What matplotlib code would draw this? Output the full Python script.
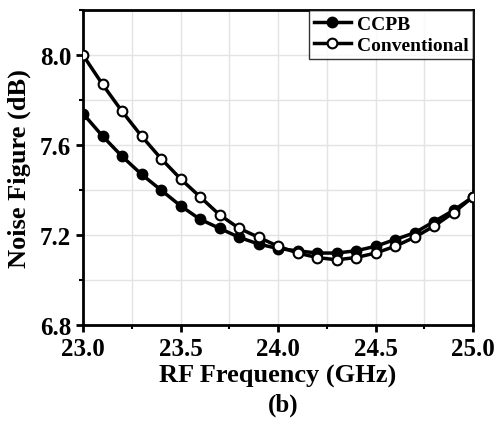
import matplotlib
matplotlib.use("Agg")
import matplotlib.pyplot as plt
from matplotlib.ticker import MultipleLocator

freq = [23.0, 23.1, 23.2, 23.3, 23.4, 23.5, 23.6, 23.7, 23.8, 23.9, 24.0,
        24.1, 24.2, 24.3, 24.4, 24.5, 24.6, 24.7, 24.8, 24.9, 25.0]
ccpb = [7.74, 7.64, 7.55, 7.47, 7.40, 7.33, 7.27, 7.23, 7.19, 7.16, 7.14,
        7.13, 7.12, 7.12, 7.13, 7.15, 7.18, 7.21, 7.26, 7.31, 7.37]
conventional = [8.00, 7.87, 7.75, 7.64, 7.54, 7.45, 7.37, 7.29, 7.23, 7.19, 7.15,
                7.12, 7.10, 7.09, 7.10, 7.12, 7.15, 7.19, 7.24, 7.30, 7.37]

plt.rcParams['font.family'] = ['Liberation Serif', 'DejaVu Serif']
plt.rcParams['font.weight'] = 'bold'

fig = plt.figure(figsize=(4.97, 4.27), dpi=100)
ax = fig.add_axes([0.167, 0.2365, 0.785, 0.7375])

ax.plot(freq, ccpb, '-o', color='black', lw=2.5, ms=7, mfc='black', mec='black',
        mew=1.5, label='CCPB', zorder=3)
ax.plot(freq, conventional, '-o', color='black', lw=2.5, ms=7, mfc='white', mec='black',
        mew=1.5, label='Conventional', zorder=4)

ax.set_xlim(23.0, 25.0)
ax.set_ylim(6.8, 8.2)
ax.xaxis.set_major_locator(MultipleLocator(0.5))
ax.xaxis.set_minor_locator(MultipleLocator(0.25))
ax.yaxis.set_major_locator(MultipleLocator(0.4))
ax.yaxis.set_minor_locator(MultipleLocator(0.2))
ax.grid(True, which='both', color='#e3e3e3', lw=1, zorder=0)
ax.set_axisbelow(True)

for s in ax.spines.values():
    s.set_linewidth(2)
ax.tick_params(which='major', direction='out', length=5, width=2, labelsize=18)
ax.tick_params(which='minor', direction='out', length=3, width=1.5)
ax.xaxis.set_major_formatter(matplotlib.ticker.FormatStrFormatter('%.1f'))
ax.yaxis.set_major_formatter(matplotlib.ticker.FormatStrFormatter('%.1f'))

ax.set_xlabel('RF Frequency (GHz)', fontsize=19, fontweight='bold', labelpad=3)
ax.set_ylabel('Noise Figure (dB)', fontsize=19, fontweight='bold', labelpad=6)

leg = ax.legend(loc='upper right', fontsize=14, frameon=True, fancybox=False,
                borderpad=0.25, handlelength=1.9, handletextpad=0.3,
                labelspacing=0.2, borderaxespad=0, edgecolor='black')
leg.get_frame().set_linewidth(1)
for t in leg.get_texts():
    t.set_fontweight('bold')

fig.text(0.57, 0.05, '(b)', ha='center', va='center', fontsize=18, fontweight='bold')

fig.savefig('out.png', dpi=100)
